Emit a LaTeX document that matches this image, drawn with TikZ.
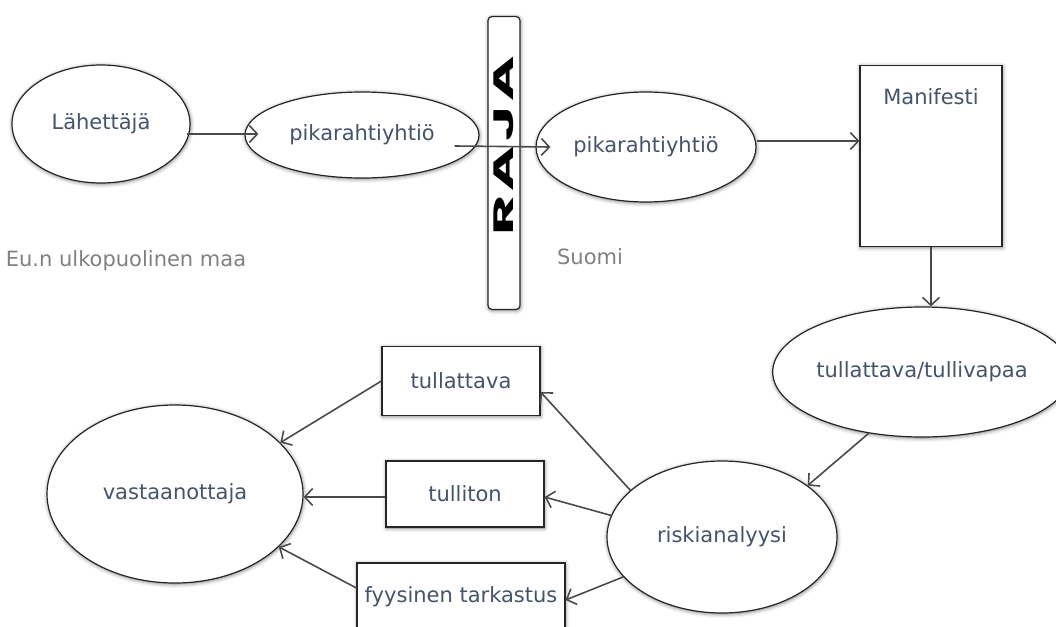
\documentclass[tikz,border=0pt]{standalone}
\usepackage{fontspec}
\setmainfont{DejaVu Sans}
\newfontfamily\rajafont{Poppins}
\usepackage{graphicx}
\usepackage{xcolor}
\usepackage{tikz}
\usetikzlibrary{arrows.meta,shapes.geometric,shadows.blur}
\definecolor{ink}{HTML}{44546A}
\definecolor{muted}{HTML}{808080}
\definecolor{edge}{HTML}{262626}
\definecolor{wire}{HTML}{4A4A4A}
\tikzset{
  shade/.style={blur shadow={shadow xshift=0.5pt, shadow yshift=-1pt, shadow blur radius=4pt, shadow opacity=55}},
  oval/.style={ellipse, draw=edge, line width=1.2pt, fill=white, inner sep=0pt, shade},
  box/.style={rectangle, draw=edge, line width=1.2pt, fill=white, inner sep=0pt, shade},
  flow/.style={draw=wire, line width=1.6pt, -{Straight Barb[length=8pt,width=17pt]}},
  lab/.style={text=ink, font=\fontsize{21}{25}\selectfont},
  labm/.style={text=muted, font=\fontsize{21}{25}\selectfont}
}

\begin{document}
\begin{tikzpicture}[x=1pt,y=-1pt]
  \useasboundingbox (0,0) rectangle (1056,626);

  % outside / border / Finland
  \node[oval, lab, minimum width=178, minimum height=118] (lah) at (101,124) {Lähettäjä};
  \node[oval, lab, minimum width=234, minimum height=86] (pik1) at (362,135) {pikarahtiyhtiö};
  \node[box, rounded corners=4pt, minimum width=32, minimum height=293] (raja) at (504,163) {};
  \node[rotate=90, font=\rajafont\bfseries\fontsize{28}{30}\selectfont] (rajatxt) at (504,146)
    {\scalebox{2.2}[1]{R\hspace{2pt}A\hspace{2pt}J\hspace{2pt}A}};
  \node[oval, lab, minimum width=220, minimum height=110] (pik2) at (646,147) {pikarahtiyhtiö};
  \node[box, minimum width=142, minimum height=181] (man) at (931,156) {};
  \node[lab] (mantxt) at ([yshift=-32pt]man.north) {Manifesti};

  \node[labm] (eu) at (126,261) {Eu.n ulkopuolinen maa};
  \node[labm] (suomi) at (590,257) {Suomi};

  % customs handling
  \node[oval, lab, minimum width=260, minimum height=130] (tull) at (922,372) {tullattava/tullivapaa};
  \node[oval, lab, minimum width=230, minimum height=152] (riski) at (722,537) {riskianalyysi};
  \node[box, lab, minimum width=158, minimum height=69] (tlt) at (461,381) {tullattava};
  \node[box, lab, minimum width=158, minimum height=66] (tlton) at (465,494) {tulliton};
  \node[box, lab, minimum width=208, minimum height=68] (fyys) at (461,597) {fyysinen tarkastus};
  \node[oval, lab, minimum width=256, minimum height=178] (vast) at (175,494) {vastaanottaja};

  \draw[flow] ([xshift=-4pt,yshift=-10pt]lah.east) -- ([xshift=14pt,yshift=1pt]pik1.west);
  \draw[flow] ([xshift=-25pt,yshift=-11pt]pik1.east) -- ([xshift=15pt]pik2.west);
  \draw[flow] ([yshift=6pt]pik2.east) -- ([yshift=15pt]man.west);
  \draw[flow] (man.south) -- (man.south |- tull.north);
  \draw[flow] (tull.229) -- (riski.31);

  \draw[flow] (riski.153) -- ([yshift=-11pt]tlt.east);
  \draw[flow] (riski.169) -- ([yshift=-3pt]tlton.east);
  \draw[flow] (riski.202) -- ([yshift=-3pt]fyys.east);

  \draw[flow] (tlt.west) -- (vast.26);
  \draw[flow] ([yshift=-3pt]tlton.west) -- ([yshift=-3pt]vast.east);
  \draw[flow] ([yshift=9pt]fyys.west) -- (vast.-27);
\end{tikzpicture}
\end{document}
